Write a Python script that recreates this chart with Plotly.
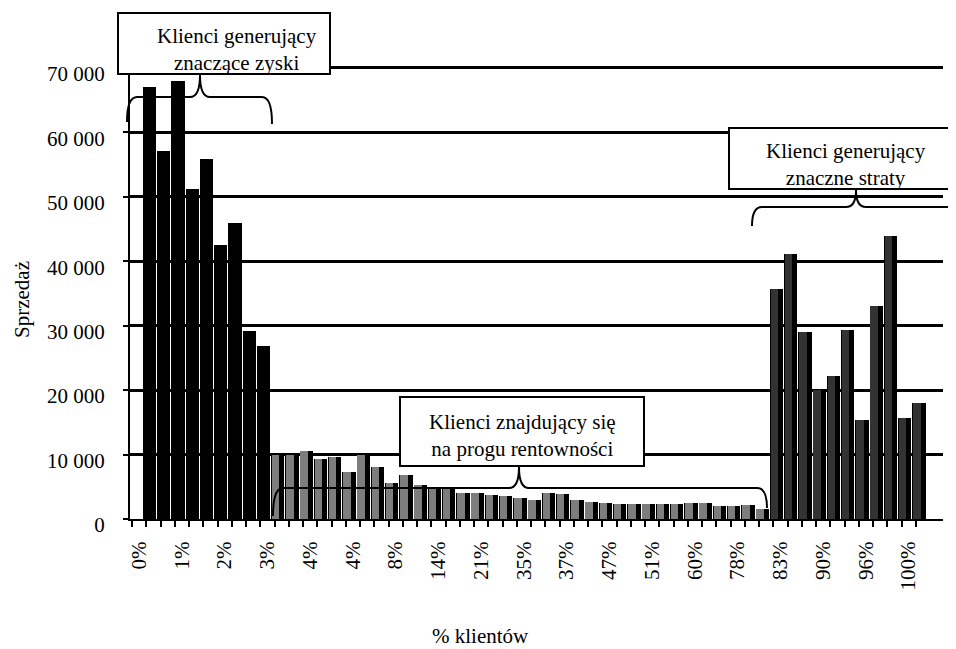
import plotly.graph_objects as go

# ---- data ----
profit_sales = [67000, 57100, 67900, 51200, 55900, 42500, 45900, 29200, 26800]
breakeven_sales = [10000, 10000, 10600, 9300, 9700, 7300, 10000, 8100, 5600, 6800,
                   5300, 4600, 5000, 4000, 4100, 3800, 3500, 3200, 3000, 4100,
                   3900, 2900, 2600, 2500, 2400, 2400, 2400, 2400, 2400, 2500,
                   2500, 2000, 2000, 2100, 1500]
loss_sales = [35700, 41200, 29000, 20000, 22200, 29300, 15400, 33100, 43900, 15700, 18000]
x_tick_labels = ["0%", "1%", "2%", "3%", "4%", "4%", "8%", "14%", "21%", "35%",
                 "37%", "47%", "51%", "60%", "78%", "83%", "90%", "96%", "100%"]
y_tick_values = [0, 10000, 20000, 30000, 40000, 50000, 60000, 70000]
y_tick_labels = ["0", "10 000", "20 000", "30 000", "40 000", "50 000", "60 000", "70 000"]
label_step = 3

FONT = "Liberation Serif, Times New Roman, serif"

OFF = 8  # page body margin
W, H = 956 - OFF, 649 - OFF
L, R, T, B = 130 - OFF, 21 - OFF, 66 - OFF, 130
PW, PH = W - L - R, H - T - B

def px(xp):
    return (xp - OFF - L) / PW

def py(yp):
    return (H - B - (yp - OFF)) / PH

groups = [
    (profit_sales, "#000000"),
    (breakeven_sales, "#7d7d7d"),
    (loss_sales, "#333333"),
]

n_total = sum(len(g[0]) for g in groups)
fig = go.Figure()
start = 0
for vals, face in groups:
    xs = list(range(start, start + len(vals)))
    fig.add_trace(go.Bar(x=xs, y=vals, width=0.93, offset=0.27,
                         marker=dict(color="#000000", line=dict(width=0)),
                         showlegend=False, hoverinfo="y"))
    fig.add_trace(go.Bar(x=xs, y=vals, width=0.52, offset=0.32,
                         marker=dict(color=face, line=dict(width=0)),
                         showlegend=False, hoverinfo="y"))
    start += len(vals)

cat_w = 14.25
x0 = -0.5 - 2 / cat_w
x1 = x0 + PW / cat_w

fig.update_layout(
    width=W, height=H,
    margin=dict(l=L, r=R, t=T, b=B, autoexpand=False),
    paper_bgcolor="white", plot_bgcolor="white",
    barmode="overlay", bargap=0,
    font=dict(family=FONT, size=21, color="black"),
    xaxis=dict(range=[x0, x1], tickmode="array", automargin=False,
               tickvals=list(range(0, n_total, label_step)),
               ticktext=x_tick_labels, tickangle=-90, ticks="",
               ticklabelstandoff=12,
               minor=dict(ticks="outside", tickmode="array",
                          tickvals=[k - 0.5 for k in range(n_total + 1)],
                          ticklen=6, tickwidth=2, tickcolor="black"),
               showline=True, linecolor="black", linewidth=2,
               showgrid=False, zeroline=False,
               tickfont=dict(family=FONT, size=21)),
    yaxis=dict(range=[0, 70300], tickmode="array", automargin=False,
               tickvals=y_tick_values, ticktext=y_tick_labels,
               ticks="outside", ticklen=5, tickwidth=2, tickcolor="black",
               ticklabelshift=6, ticklabelstandoff=14,
               showline=True, linecolor="black", linewidth=2,
               showgrid=True, gridcolor="black", gridwidth=3,
               zeroline=False, tickfont=dict(family=FONT, size=21)),
)

def text(s, xc, yc, angle=0):
    fig.add_annotation(text=s, xref="paper", yref="paper", x=px(xc), y=py(yc),
                       xanchor="center", yanchor="middle", textangle=angle,
                       showarrow=False, font=dict(family=FONT, size=21), align="center")

# axis titles
text("Sprzedaż", 22, 300, -90)
text("% klientów", 480, 636)

def box(xa, ya, xb, yb):
    fig.add_shape(type="rect", xref="paper", yref="paper",
                  x0=px(xa), x1=px(xb), y0=py(yb), y1=py(ya),
                  fillcolor="white", line=dict(color="black", width=2), layer="above")

def brace(pts_str):
    fig.add_shape(type="path", xref="paper", yref="paper", path=pts_str,
                  line=dict(color="black", width=2), layer="above")

def P(xp, yp):
    return f"{px(xp):.5f},{py(yp):.5f}"

# Box 1
box(118, 13, 330, 74)
text("Klienci generujący<br>znaczące zyski", 237, 49)
brace(f"M {P(127,122)} Q {P(127,97)} {P(137,97)} L {P(190,97)} Q {P(200,97)} {P(200,75)} "
      f"Q {P(200,97)} {P(210,97)} L {P(262,97)} Q {P(272,97)} {P(272,124)}")

# Box 2
box(729, 128, 958, 189)
text("Klienci generujący<br>znaczne straty", 846, 164)
brace(f"M {P(752,226)} Q {P(752,207)} {P(762,207)} L {P(846,207)} Q {P(856,207)} {P(856,190)} "
      f"Q {P(856,207)} {P(866,207)} L {P(960,207)}")

# Box 3
box(400, 397, 644, 466)
text("Klienci znajdujący się<br>na progu rentowności", 522, 435)
brace(f"M {P(273,516)} Q {P(273,488)} {P(283,488)} L {P(509,488)} Q {P(519,488)} {P(519,467)} "
      f"Q {P(519,488)} {P(529,488)} L {P(757,488)} Q {P(767,488)} {P(767,508)}")

fig.write_html("out.html")
